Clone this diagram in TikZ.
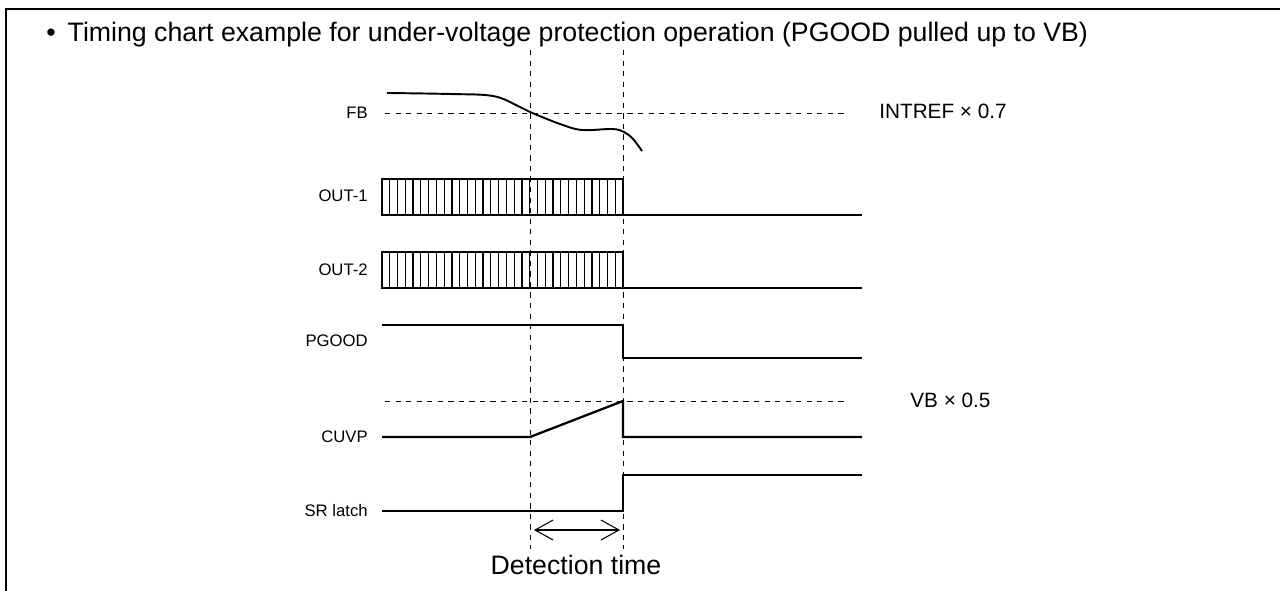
\documentclass[tikz,border=0pt]{standalone}
\usepackage{fontspec}
\setmainfont{Liberation Sans}
\usetikzlibrary{arrows.meta}
\usetikzlibrary{positioning}

\begin{document}
\begin{tikzpicture}[
  x=0.02cm, y=-0.02cm,
  every node/.style={font=\fontsize{9.5}{11}\selectfont},
  sig/.style={line width=1.3pt, line join=miter},
  guide/.style={dash pattern=on 3pt off 3pt, line width=0.5pt},
  hatch/.style={line width=0.7pt},
  lbl/.style={anchor=east, inner sep=0pt},
  lvl/.style={anchor=west, inner sep=0pt, font=\fontsize{11.8}{14}\selectfont}
]
\useasboundingbox (0,0) rectangle (1280,591);
% frame
\draw[line width=1pt] (6,591) -- (6,9) -- (1280,9);
\node[anchor=west, inner sep=0pt, font=\fontsize{15.2}{18}\selectfont] (title) at (46,35)
  {\textbullet\hspace{0.45em}Timing chart example for under-voltage protection operation (PGOOD pulled up to VB)};

% time marks
\coordinate (t1) at (530,50);
\coordinate (t2) at (623,50);
\coordinate (b1) at (530,549);
\coordinate (b2) at (623,549);
\draw[guide] (t1) -- (b1);
\draw[guide] (t2) -- (b2);

% signal names
\node[lbl] (fb) at (368,113) {FB};
\node[lbl] (out1) at (368,196) {OUT-1};
\node[lbl] (out2) at (368,270) {OUT-2};
\node[lbl] (pgood) at (368,341) {PGOOD};
\node[lbl] (cuvp) at (368,437) {CUVP};
\node[lbl] (srl) at (368,511) {SR latch};

% FB
\draw[guide] (385,113) -- (848,113);
\node[lvl] (intref) at (879,111) {INTREF × 0.7};
\draw[sig, line width=1.1pt] plot[smooth, tension=0.6] coordinates
  {(387,93) (450,94) (493,96) (518,106) (530,112) (560,124) (582,130) (612,129) (624,132) (633,139) (642,151)};

% OUT-1
\draw[sig] (382,179) rectangle (623,215);
\foreach \i in {1,...,30}
  \draw[hatch] ({382+\i*241/31},179) -- ++(0,36);
\draw[sig] (623,215) -- (862,215);

% OUT-2
\draw[sig] (382,252) rectangle (623,288);
\foreach \i in {1,...,30}
  \draw[hatch] ({382+\i*241/31},252) -- ++(0,36);
\draw[sig] (623,288) -- (862,288);

% PGOOD
\draw[sig] (382,325) -- (623,325) -- (623,358) -- (862,358);

% CUVP
\draw[guide] (385,401) -- (848,401);
\node[lvl] (vbref) at (910,400) {VB × 0.5};
\draw[sig] (382,437) -- (530,437) -- (623,401) -- (623,437) -- (862,437);

% SR latch
\draw[sig] (382,511) -- (623,511) -- (623,475) -- (862,475);

% detection time
\coordinate (d1) at (534,530);
\coordinate (d2) at (620,530);
\draw[line width=0.6pt, {Straight Barb[length=0.36cm,width=0.4cm]}-{Straight Barb[length=0.36cm,width=0.4cm]}] (d1) -- (d2);
\node[font=\fontsize{15.2}{18}\selectfont] (det) at (576,565) {Detection time};
\end{tikzpicture}
\end{document}
